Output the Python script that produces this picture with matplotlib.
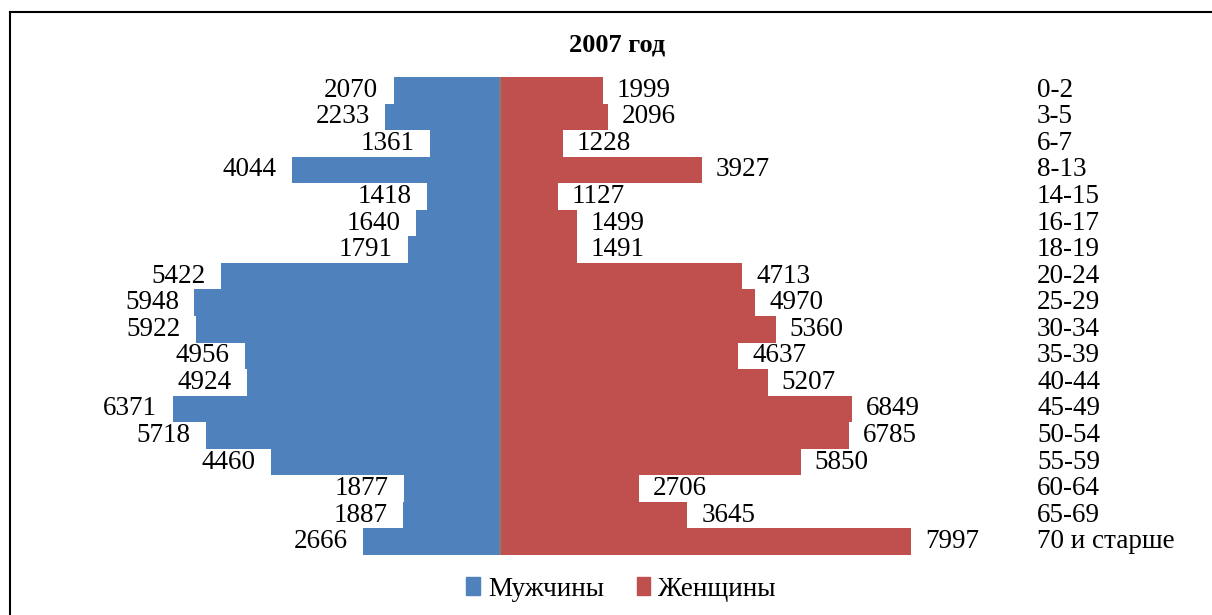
import matplotlib.pyplot as plt
from matplotlib.patches import Patch
from matplotlib.lines import Line2D

# --- data ---
ages = ["0-2", "3-5", "6-7", "8-13", "14-15", "16-17", "18-19", "20-24", "25-29",
        "30-34", "35-39", "40-44", "45-49", "50-54", "55-59", "60-64", "65-69",
        "70 и старше"]
men = [2070, 2233, 1361, 4044, 1418, 1640, 1791, 5422, 5948,
       5922, 4956, 4924, 6371, 5718, 4460, 1877, 1887, 2666]
women = [1999, 2096, 1228, 3927, 1127, 1499, 1491, 4713, 4970,
         5360, 4637, 5207, 6849, 6785, 5850, 2706, 3645, 7997]

blue = "#4F81BD"
red = "#C0504D"

plt.rcParams["font.family"] = ["Liberation Serif", "DejaVu Serif"]

W, H = 1212, 615
fig = plt.figure(figsize=(W / 100, H / 100), dpi=100)

# axes: x from px 50 to 950 -> center at 500
ax = fig.add_axes([50 / W, 1 - 555 / H, 900 / W, 478 / H])
L = 450 / 0.0514
ax.set_xlim(-L, L)
ax.set_ylim(len(ages) - 0.5, -0.5)
ax.axis("off")

ypos = list(range(len(ages)))
ax.barh(ypos, [-m for m in men], height=1.0, color=blue, linewidth=0)
ax.barh(ypos, women, height=1.0, color=red, linewidth=0)
ax.axvline(0, color="#7f7f7f", lw=1.5)

fs = 19.5
for i in ypos:
    ax.annotate(str(men[i]), (-men[i], i), xytext=(-11, 0), textcoords="offset points",
                ha="right", va="center", fontsize=fs, annotation_clip=False)
    ax.annotate(str(women[i]), (women[i], i), xytext=(10, 0), textcoords="offset points",
                ha="left", va="center", fontsize=fs, annotation_clip=False)
    ax.annotate(ages[i], (1037 / W, i), xycoords=("figure fraction", "data"),
                ha="left", va="center", fontsize=fs, annotation_clip=False)

fig.text(617 / W, 1 - 45 / H, "2007 год", ha="center", va="center",
         fontsize=19, fontweight="bold")

handles = [Patch(color=blue, label="Мужчины"), Patch(color=red, label="Женщины")]
fig.legend(handles=handles, loc="center", bbox_to_anchor=(621 / W, 1 - 589 / H),
           ncol=2, frameon=False, fontsize=fs, handlelength=0.5, handleheight=0.6,
           handletextpad=0.3, columnspacing=1.2)

# frame lines on top and left
fig.add_artist(Line2D([10 / W, 10 / W], [0, 1 - 12 / H], transform=fig.transFigure,
                      color="black", lw=1.5))
fig.add_artist(Line2D([10 / W, 1], [1 - 12 / H, 1 - 12 / H], transform=fig.transFigure,
                      color="black", lw=1.5))

fig.savefig("out.png", dpi=100)
